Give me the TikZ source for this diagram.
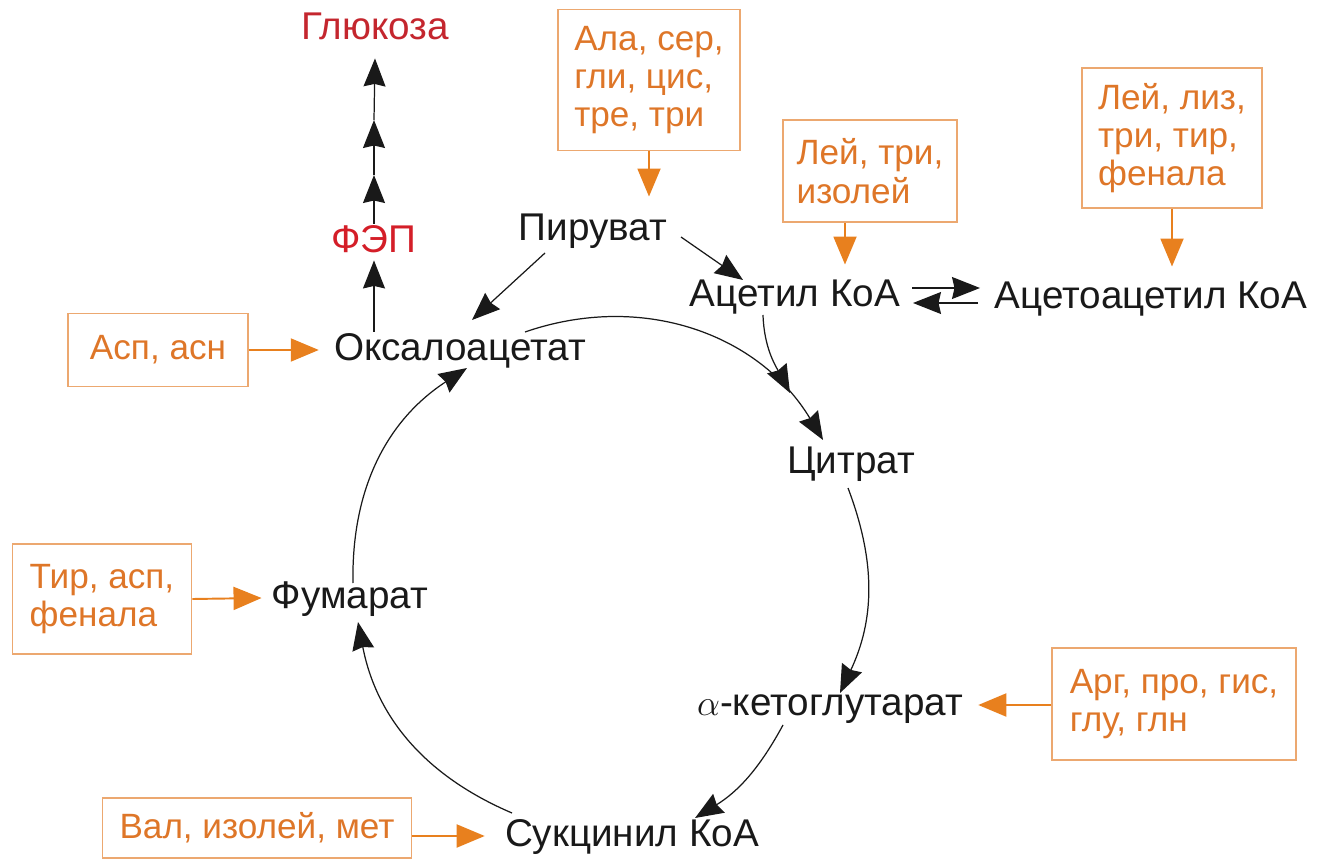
\documentclass[tikz,border=0pt]{standalone}
\usepackage{fontspec}
\setmainfont{Liberation Sans}
\usetikzlibrary{arrows.meta,calc,positioning}
\definecolor{aaor}{RGB}{222,118,40}
\definecolor{arrowor}{RGB}{232,128,30}
\definecolor{boxor}{RGB}{236,168,112}
\definecolor{glured}{RGB}{196,38,46}
\definecolor{fepred}{RGB}{212,30,40}
\definecolor{inkblack}{RGB}{25,25,25}

\tikzset{
  metab/.style={font=\fontsize{22}{26}\selectfont, text=inkblack, inner sep=0pt, text height=16pt, text depth=4.6pt},
  gluc/.style={metab, text=glured},
  aabox/.style={draw=boxor, line width=1.1pt, text=aaor, font=\fontsize{20}{21.8}\selectfont, align=left, inner sep=0pt},
  rxn/.style={-{Stealth[length=0.56cm,width=0.44cm,inset=0.05cm]}, line width=0.7pt, draw=inkblack},
  feed/.style={-{Triangle[length=0.56cm,width=0.46cm]}, line width=1.1pt, draw=arrowor}
}

\begin{document}
\begin{tikzpicture}[x=0.02cm,y=0.02cm]
\useasboundingbox (0,0) rectangle (1322,-861);

% metabolites
\node[gluc] (glu) at (375,-29) {Глюкоза};
\node[gluc, text=fepred] (fep) at (374,-242) {ФЭП};
\node[metab] (ok) at (460,-350) {Оксалоацетат};
\node[metab] (pir) at (593,-230) {Пируват};
\node[metab] (acet) at (795,-296) {Ацетил КоА};
\node[metab] (aca) at (1151,-298) {Ацетоацетил КоА};
\node[metab] (cit) at (851,-463) {Цитрат};
\node[metab] (akg) at (830,-705) {$\alpha$-кетоглутарат};
\node[metab] (suc) at (632,-836) {Сукцинил КоА};
\node[metab] (fum) at (350,-598) {Фумарат};

% amino acid boxes
\node[aabox, minimum width=3.64cm, minimum height=2.82cm] (ala) at (649,-80) {Ала, сер,\\гли, цис,\\тре, три};
\node[aabox, minimum width=3.48cm, minimum height=2.04cm] (lt) at (870,-171) {Лей, три,\\изолей};
\node[aabox, minimum width=3.6cm, minimum height=2.8cm] (ll) at (1172,-138) {Лей, лиз,\\три, тир,\\фенала};
\node[aabox, minimum width=3.6cm, minimum height=1.46cm] (asp) at (158,-350) {Асп, асн};
\node[aabox, minimum width=3.58cm, minimum height=2.2cm] (tir) at (102,-599) {Тир, асп,\\фенала};
\node[aabox, minimum width=6.18cm, minimum height=1.2cm] (val) at (257,-828) {Вал, изолей, мет};
\node[aabox, minimum width=4.88cm, minimum height=2.24cm] (arg) at (1174,-704) {Арг, про, гис,\\глу, глн};

\coordinate (g1) at (374,-175);
\coordinate (g2) at (374,-120);
\coordinate (ltfoot) at ($(lt.south)+(-25,0)$);

% gluconeogenesis
\draw[rxn] (fep.south |- ok.north) -- (fep.south);
\draw[rxn] (fep.north) -- (g1);
\draw[rxn] (g1) -- (g2);
\draw[rxn] (g2) -- ($(glu.south)+(0,-11)$);

% feeding arrows
\draw[feed] (asp.east) -- ($(ok.west)+(-15,0)$);
\draw[feed] (tir.east) -- ($(fum.west)+(-10,0)$);
\draw[feed] (val.east |- suc) -- ($(suc.west)+(-20,0)$);
\draw[feed] (arg.west |- akg) -- ($(akg.east)+(15,0)$);
\draw[feed] (ala.south) -- ($(ala.south |- pir.north)+(0,15)$);
\draw[feed] (ltfoot) -- ($(ltfoot |- acet.north)+(0,13)$);
\draw[feed] (ll.south) -- ($(ll.south |- aca.north)+(0,13)$);

% pyruvate, acetyl CoA
\draw[rxn] ($(pir)+(-48,-23)$) -- ($(ok)+(12,30)$);
\draw[rxn] ($(pir)+(88,-7)$) -- ($(acet)+(-52,16)$);
\draw[rxn] ($(acet)+(117,8)$) -- ($(aca)+(-171,10)$);
\draw[rxn] ($(aca)+(-173,-5)$) -- ($(acet)+(118,-7)$);
\draw[rxn] ($(acet)+(-32,-19)$) to[out=-88,in=118] ($(cit)+(-61,70)$);

% cycle
\draw[rxn] ($(ok)+(65,18)$) to[bend left=39] ($(cit)+(-28,23)$);
\draw[rxn] ($(cit)+(-3,-25)$) to[bend left=23] ($(akg)+(10,12)$);
\draw[rxn] ($(akg)+(-47,-20)$) to[bend left=15] ($(suc)+(63,18)$);
\draw[rxn] ($(suc)+(-120,23)$) to[bend left=28] ($(fum)+(8,-24)$);
\draw[rxn] ($(fum)+(3,15)$) to[bend left=29] ($(ok)+(7,-18)$);
\end{tikzpicture}
\end{document}
